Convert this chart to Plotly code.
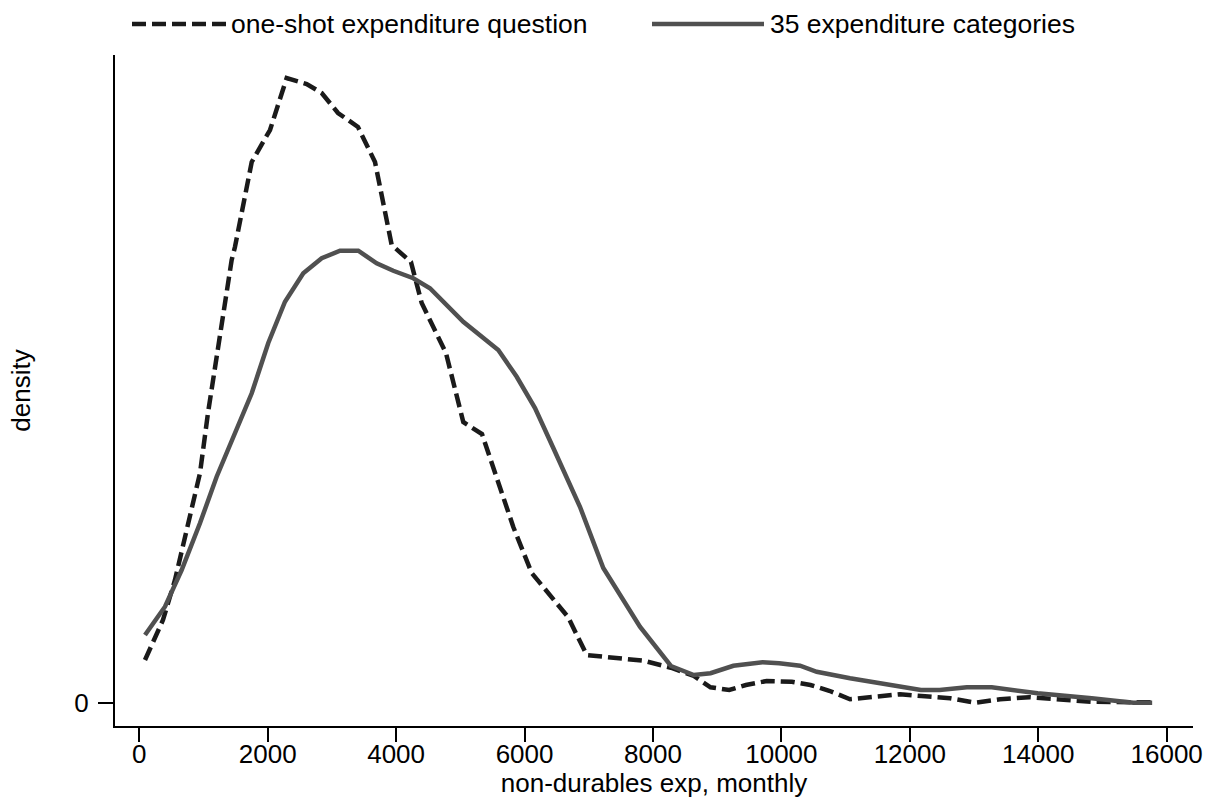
import plotly.graph_objects as go
import numpy as np

# x: non-durables expenditure, monthly ; y: density (in units of 1e-4)
x_oneshot = [89, 369, 556, 790, 946, 1070, 1153, 1257, 1361, 1439, 1490, 1751, 2036, 2087,
             2296, 2607, 2841, 3095, 3406, 3671, 3931, 4231, 4398, 4776, 5046, 5337, 5825,
             6111, 6677, 6968, 7565, 7857, 8279, 8636, 8896, 9188, 9447, 9772, 10161, 10453,
             10745, 11069, 11459, 11848, 12237, 12627, 13016, 13406, 13860, 14314, 14833,
             15482, 15774]
d_oneshot = [0.172, 0.332, 0.492, 0.760, 0.920, 1.160, 1.292, 1.480, 1.640, 1.772, 1.824,
             2.164, 2.292, 2.332, 2.500, 2.476, 2.440, 2.360, 2.304, 2.164, 1.832, 1.764,
             1.600, 1.400, 1.124, 1.076, 0.704, 0.520, 0.344, 0.192, 0.175, 0.169, 0.141,
             0.108, 0.063, 0.052, 0.072, 0.088, 0.085, 0.072, 0.049, 0.015, 0.025, 0.035,
             0.027, 0.019, 0.001, 0.015, 0.023, 0.015, 0.005, 0.003, 0.003]

x_cat35 = [89, 400, 660, 945, 1205, 1490, 1751, 2009, 2269, 2554, 2841, 3126, 3411, 3697,
           3956, 4267, 4527, 5046, 5591, 5878, 6163, 6448, 6863, 7226, 7797, 8279, 8636,
           8896, 9252, 9707, 9966, 10291, 10550, 11069, 11589, 12173, 12465, 12887, 13276,
           13536, 13990, 14833, 15482, 15774]
d_cat35 = [0.272, 0.385, 0.532, 0.719, 0.905, 1.079, 1.239, 1.440, 1.605, 1.719, 1.779,
           1.809, 1.809, 1.759, 1.729, 1.699, 1.659, 1.525, 1.412, 1.305, 1.180, 1.020,
           0.785, 0.540, 0.305, 0.148, 0.112, 0.119, 0.149, 0.163, 0.159, 0.149, 0.125,
           0.099, 0.079, 0.052, 0.052, 0.063, 0.063, 0.055, 0.039, 0.019, 0.001, 0.001]

x_ticks = [0, 2000, 4000, 6000, 8000, 10000, 12000, 14000, 16000]
series_names = ["one-shot expenditure question", "35 expenditure categories"]

SCALE = 1e-4
FONT = "Liberation Sans, Arial, Helvetica, sans-serif"
C_DASH = "#1a1a1a"
C_SOLID = "#505050"
LW = 4.5
FS = 26

fig = go.Figure()
fig.add_trace(go.Scatter(x=x_oneshot, y=np.array(d_oneshot) * SCALE, mode="lines",
                         name=series_names[0],
                         line=dict(color=C_DASH, width=LW, dash="14px,6px")))
fig.add_trace(go.Scatter(x=x_cat35, y=np.array(d_cat35) * SCALE, mode="lines",
                         name=series_names[1],
                         line=dict(color=C_SOLID, width=LW)))

W, H = 1205, 798
L, R, T, B = 115, 12, 55, 72
pw, ph = W - L - R, H - T - B

def px_x(p):
    return (p - L) / pw

def px_y(p):
    return (H - B - p) / ph

# manual legend (wide line samples like the original)
leg_y = 24
shapes = [
    dict(type="line", xref="paper", yref="paper", x0=px_x(132), x1=px_x(226),
         y0=px_y(leg_y), y1=px_y(leg_y), line=dict(color=C_DASH, width=LW, dash="14px,6px")),
    dict(type="line", xref="paper", yref="paper", x0=px_x(652), x1=px_x(764),
         y0=px_y(leg_y), y1=px_y(leg_y), line=dict(color=C_SOLID, width=LW)),
]
annotations = [
    dict(text=series_names[0], xref="paper", yref="paper", x=px_x(229), y=px_y(leg_y),
         xanchor="left", yanchor="middle", showarrow=False,
         font=dict(family=FONT, size=26.5, color="#000")),
    dict(text=series_names[1], xref="paper", yref="paper", x=px_x(768), y=px_y(leg_y),
         xanchor="left", yanchor="middle", showarrow=False,
         font=dict(family=FONT, size=26.5, color="#000")),
]

fig.update_layout(
    width=W, height=H, autosize=False,
    margin=dict(l=L, r=R, t=T, b=B, pad=0, autoexpand=False),
    paper_bgcolor="white", plot_bgcolor="white",
    showlegend=False,
    font=dict(family=FONT, size=FS, color="#000"),
    shapes=shapes, annotations=annotations,
    xaxis=dict(range=[-378, 16410], tickvals=x_ticks, ticktext=[str(v) for v in x_ticks],
               showgrid=False, zeroline=False, showline=True, linecolor="#000", linewidth=2,
               ticks="outside", ticklen=14, tickwidth=2, tickcolor="#000", automargin=False,
               tickfont=dict(family=FONT, size=FS), ticklabelstandoff=-10,
               title=dict(text="non-durables exp, monthly", standoff=11,
                          font=dict(family=FONT, size=FS))),
    yaxis=dict(range=[-0.092 * SCALE, 2.592 * SCALE], tickvals=[0], ticktext=["0"],
               showgrid=False, zeroline=False, showline=True, linecolor="#000", linewidth=2,
               ticks="outside", ticklen=15, tickwidth=2, tickcolor="#000", automargin=False,
               tickfont=dict(family=FONT, size=FS), ticklabelstandoff=4,
               title=dict(text="density", standoff=36, font=dict(family=FONT, size=FS))),
)

fig.write_html("out.html", config={"displayModeBar": False},
               post_script="document.body.style.margin='0';document.body.style.overflow='hidden';")
